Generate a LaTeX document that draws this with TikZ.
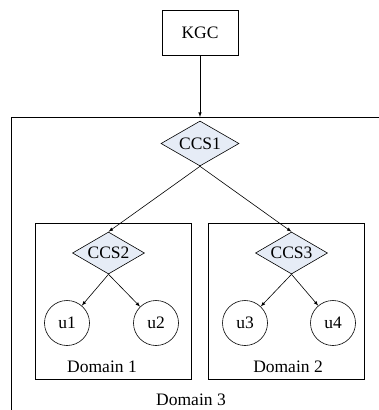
\documentclass[tikz,border=0pt]{standalone}
\usepackage{fontspec}
\setmainfont{Liberation Serif}
\usetikzlibrary{shapes.geometric}
\definecolor{ccsfill}{RGB}{230,236,246}
\tikzset{
	box/.style={draw, rectangle, inner sep=0pt},
	ccs/.style={draw, diamond, fill=ccsfill, aspect=1.75, inner sep=0pt, minimum width=72, minimum height=42},
	user/.style={draw, circle, inner sep=0pt, minimum size=45},
	link/.style={->, >=latex}
}

\begin{document}
\begin{tikzpicture}[x=1pt,y=-1pt,line width=0.6pt,font=\fontsize{17.5}{20}\selectfont]
	\useasboundingbox (0,0) rectangle (379,410);

	% outer domain, open at the right and bottom
	\draw (11,410) -- (11,117) -- (379,117);
	\coordinate (d3top) at (200,117);
	\node[inner sep=1pt] at (191,400) {Domain 3};

	\node[box, minimum width=156, minimum height=156] (dom1) at (113,301) {};
	\node[box, minimum width=156, minimum height=156] (dom2) at (286,301) {};
	\node at (102,367) {Domain 1};
	\node at (288,367) {Domain 2};

	\node[box, minimum width=76, minimum height=45] (kgc) at (200,32.5) {KGC};
	\node[ccs, minimum width=78, minimum height=45] (ccs1) at (200,143.5) {CCS1};
	\node[ccs] (ccs2) at (108.5,253) {CCS2};
	\node[ccs] (ccs3) at (291.5,253) {CCS3};

	\node[user] (u1) at (67,323) {u1};
	\node[user] (u2) at (156,323) {u2};
	\node[user] (u3) at (245,323) {u3};
	\node[user] (u4) at (333,323) {u4};

	\draw[link] (kgc) -- (d3top);
	\draw[link] (ccs1.south) -- (ccs2.north);
	\draw[link] (ccs1.south) -- (ccs3.north);
	\draw[link] (ccs2.south) -- (u1);
	\draw[link] (ccs2.south) -- (u2);
	\draw[link] (ccs3.south) -- (u3);
	\draw[link] (ccs3.south) -- (u4);
\end{tikzpicture}
\end{document}
